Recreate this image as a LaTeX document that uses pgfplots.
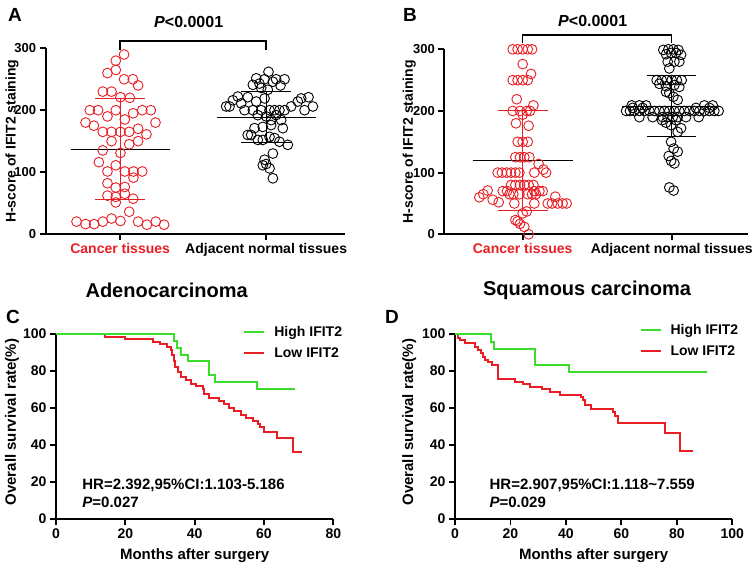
\documentclass[border=0pt]{standalone}
\usepackage{pgfplots}
\pgfplotsset{compat=1.18}
\usepackage{fontspec}
\setmainfont{Liberation Sans}
\definecolor{cred}{RGB}{232,30,36}
\definecolor{cgreen}{RGB}{60,222,45}
\newcommand{\fsz}[1]{\fontsize{#1}{#1}\selectfont\bfseries}
\pgfplotsset{
  myaxis/.style={
    scale only axis,
    axis lines=left,
    axis line style={line width=1.8pt,-},
    tick align=outside,
    major tick length=6pt,
    minor tick num=0,
    tick style={line width=1.8pt,black},
    /pgf/number format/assume math mode=true,
    tick label style={font=\fsz{13}},
    clip=false,
    anchor=south west,
  },
  scat/.style={only marks, mark=o, mark size=4.9pt, mark options={line width=0.9pt}},
  kmaxis/.style={
    myaxis,
    width=277.3pt, height=185pt,
    ymin=0, ymax=100, ytick={0,20,...,100},
    tick label style={font=\fsz{14}},
    xlabel={Months after surgery},
    ylabel={Overall survival rate(\%)},
    every axis x label/.style={at={(axis description cs:0.5,-0.198)},anchor=center,font=\fsz{15}},
    reverse legend,
    legend cell align=left,
    legend image code/.code={\draw[#1,line width=2pt] (0pt,0pt) -- (20pt,0pt);},
    legend style={draw=none, fill=none, font=\fsz{14}, row sep=6pt, inner sep=0pt,
      /tikz/every odd column/.append style={column sep=7pt}},
  },
}
\begin{document}
\begin{tikzpicture}[x=1pt,y=1pt]
\path[use as bounding box] (0,0) rectangle (753,568);

% ---------------- Panel A ----------------
\begin{axis}[myaxis, at={(45.7pt,334pt)}, width=299.3pt, height=185.7pt,
  xmin=-0.51, xmax=1.54, ymin=0, ymax=300, ytick={0,100,200,300},
  xtick={0,1}, xticklabels={\textcolor{cred}{Cancer tissues},Adjacent normal tissues},
  x tick label style={font=\fsz{14}},
  ylabel={H-score of IFIT2 staining},
  every axis y label/.style={at={(axis description cs:-0.1126,0.5)},rotate=90,anchor=center,font=\fsz{14}}]
\addplot[scat, cred] table[row sep=\\]{
x y\\
0.027 290\\ -0.030 280\\ -0.030 265\\ -0.087 260\\ 0.027 250\\ 0.087 250\\ 0.123 240\\
-0.119 230\\ -0.059 230\\ 0.002 221\\ 0.066 220\\ -0.208 200\\ -0.151 200\\ -0.087 190\\
-0.030 200\\ 0.032 185\\ 0.089 195\\ 0.151 200\\ 0.210 200\\ -0.237 180\\ -0.180 175\\
-0.119 165\\ -0.059 165\\ 0.002 165\\ 0.062 165\\ 0.123 170\\ 0.242 180\\ 0.180 161\\
-0.059 150\\ 0.062 145\\ 0.123 150\\ -0.119 135\\ 0.002 131\\ -0.146 116\\ -0.030 111\\
-0.087 101\\ 0.032 101\\ 0.091 101\\ 0.151 101\\ 0.091 91\\ -0.087 82\\ -0.030 75\\
0.032 76\\ -0.087 62\\ -0.030 60\\ 0.032 65\\ 0.089 57\\ -0.030 51\\ 0.062 36\\
-0.299 20\\ -0.237 16\\ -0.178 16\\ -0.119 20\\ -0.059 25\\ 0.002 21\\ 0.123 20\\
0.183 15\\ 0.244 20\\ 0.301 15\\
};
\addplot[scat, black] table[row sep=\\]{
x y\\
1.016 262\\ 0.932 251.5\\ 0.989 250\\ 1.068 250\\ 1.126 250\\ 0.954 243\\ 1.046 246\\
1.098 240\\ 0.909 241\\ 0.966 236\\ 1.011 233\\ 0.806 222\\ 0.772 216\\ 0.874 221\\
0.989 219\\ 1.240 219\\ 1.290 221\\ 1.217 214\\ 0.726 206\\ 0.749 206\\ 0.829 211\\
0.932 214\\ 0.852 200\\ 0.909 200\\ 0.966 200\\ 1.023 200\\ 1.057 200\\ 1.091 200\\
1.126 200\\ 1.171 206\\ 1.263 200\\ 1.320 206\\ 0.943 192\\ 1.000 190\\ 1.068 192\\
1.034 184\\ 1.103 184\\ 0.920 171\\ 0.977 173\\ 1.034 176\\ 1.114 171\\ 0.874 160\\
0.897 160\\ 0.943 152\\ 0.977 152\\ 1.023 157\\ 1.057 155\\ 1.091 149\\ 1.148 144\\
1.046 130\\ 0.989 120\\ 1.000 113\\ 0.977 111\\ 1.023 106\\ 1.046 90\\
};
\addplot[black, line width=1pt] coordinates {(-0.34,137) (0.34,137)};
\addplot[cred, line width=1pt] coordinates {(-0.17,219) (0.17,219)};
\addplot[cred, line width=1pt] coordinates {(-0.17,55) (0.17,55)};
\addplot[cred, line width=1pt] coordinates {(0,55) (0,219)};
\addplot[black, line width=1pt] coordinates {(0.66,189) (1.34,189)};
\addplot[black, line width=1pt] coordinates {(0.83,231) (1.17,231)};
\addplot[black, line width=1pt] coordinates {(0.83,148) (1.17,148)};
\addplot[black, line width=1pt] coordinates {(1,148) (1,231)};
\draw[line width=1.5pt] (axis cs:0,298) -- (axis cs:0,312) -- (axis cs:1,312) -- (axis cs:1,298);
\end{axis}

% ---------------- Panel B ----------------
\begin{axis}[myaxis, at={(444.3pt,333.7pt)}, width=303.4pt, height=185pt,
  xmin=-0.526, xmax=1.51, ymin=0, ymax=300, ytick={0,100,200,300},
  xtick={0,1}, xticklabels={\textcolor{cred}{Cancer tissues},Adjacent normal tissues},
  x tick label style={font=\fsz{14}},
  ylabel={H-score of IFIT2 staining},
  every axis y label/.style={at={(axis description cs:-0.1154,0.5)},rotate=90,anchor=center,font=\fsz{14}}]
\addplot[scat, cred] table[row sep=\\]{
x y\\
-0.067 300\\ -0.034 300\\ 0 300\\ 0.034 300\\ 0.063 300\\ 0 276\\ 0.056 260\\
-0.067 250\\ -0.034 250\\ 0 250\\ 0.034 250\\ -0.040 219\\ 0.072 209\\
-0.067 200\\ -0.018 200\\ 0.027 200\\ 0.049 200\\ 0 194\\ -0.045 180\\ 0.040 176\\
-0.034 150\\ 0 150\\ 0.034 150\\
-0.049 125\\ -0.018 125\\ 0.011 125\\ 0.045 125\\
0.107 114\\ 0.139 105\\ 0.157 100\\ 0.078 100\\
-0.168 100\\ -0.139 100\\ -0.107 100\\ -0.078 100\\ -0.049 100\\ -0.022 100\\
-0.078 80\\ -0.049 80\\ -0.018 80\\ 0.011 80\\ 0.040 80\\ 0.072 80\\
-0.134 70\\ -0.105 70\\ 0.078 70\\ 0.112 70\\ 0.134 70\\
-0.291 60\\ -0.264 65\\ -0.235 71\\ -0.201 56\\ -0.161 52\\
-0.089 65\\ -0.063 65\\ -0.022 65\\ 0.034 65\\ 0.063 65\\ 0.089 65\\
-0.056 50\\ 0.078 50\\ 0.168 50\\ 0.197 50\\ 0.235 50\\ 0.268 50\\ 0.295 50\\
0.219 61\\ 0.027 37\\ 0 34\\
-0.049 23\\ -0.034 21\\ -0.018 17\\ 0.011 12\\ 0.040 0\\
};
\addplot[scat, black] table[row sep=\\]{
x y\\
0.944 299\\ 0.978 300\\ 1.011 300\\ 1.045 299\\ 0.962 292\\ 0.996 294\\ 1.029 294\\
1.063 291\\ 0.973 280\\ 1.018 280\\ 1.051 280\\ 0.984 269\\
0.899 250\\ 0.933 250\\ 0.966 250\\ 1.000 250\\ 1.034 250\\ 1.067 250\\
0.917 244\\ 0.962 240\\ 1.018 242\\ 1.051 239\\ 0.962 231\\ 0.984 229\\ 1.011 223\\
1.040 218\\
0.694 200\\ 0.720 200\\ 0.749 200\\ 0.783 200\\ 0.817 200\\ 0.850 200\\ 0.884 200\\
0.917 200\\ 0.951 200\\ 0.984 200\\ 1.018 200\\ 1.051 200\\ 1.085 200\\ 1.119 200\\
1.152 200\\ 1.186 200\\ 1.219 200\\ 1.253 200\\ 1.286 200\\ 1.315 200\\
0.738 205\\ 0.805 205\\ 1.163 205\\ 1.253 205\\
0.732 209\\ 0.783 209\\ 0.828 209\\ 1.219 209\\ 1.275 209\\
0.783 190\\ 0.872 190\\ 0.940 190\\ 0.973 190\\ 1.007 190\\ 1.040 190\\ 1.096 190\\
1.181 190\\
0.935 185\\ 0.962 181\\ 0.996 177\\ 1.029 185\\ 1.063 172\\ 1.040 166\\
0.996 150\\ 1.013 139\\ 1.040 134\\ 0.980 127\\ 0.996 119\\ 1.018 115\\
0.984 76\\ 1.013 71\\
};
\addplot[black, line width=1pt] coordinates {(-0.336,120) (0.336,120)};
\addplot[cred, line width=1pt] coordinates {(-0.168,201) (0.168,201)};
\addplot[cred, line width=1pt] coordinates {(-0.168,39) (0.168,39)};
\addplot[cred, line width=1pt] coordinates {(0,39) (0,201)};
\addplot[black, line width=1pt] coordinates {(0.668,208) (1.332,208)};
\addplot[black, line width=1pt] coordinates {(0.834,257) (1.166,257)};
\addplot[black, line width=1pt] coordinates {(0.834,158) (1.166,158)};
\addplot[black, line width=1pt] coordinates {(1,158) (1,257)};
\draw[line width=1.5pt] (axis cs:0,310) -- (axis cs:0,323) -- (axis cs:1,323) -- (axis cs:1,310);
\end{axis}

% ---------------- Panel C ----------------
\begin{axis}[kmaxis, at={(56pt,49pt)}, xmin=0, xmax=80, xtick={0,20,...,80},
  every axis y label/.style={at={(axis description cs:-0.1587,0.524)},rotate=90,anchor=center,font=\fsz{15}},
  legend style={at={(axis cs:54,105.5)}, anchor=north west}]
\addplot[const plot, cred, line width=2pt] table[row sep=\\]{
x y\\
0 100\\ 14 98.6\\ 20 97.2\\ 28 95.8\\ 30 94.4\\ 32 93.0\\ 33.2 91.5\\ 33.5 88.7\\
34.1 85.2\\ 34.4 82.3\\ 35.1 79.6\\ 36 77.0\\ 37.5 75.1\\ 38.9 73.2\\ 40.4 71.8\\
42.3 70.0\\ 42.8 67.5\\ 44.2 65.5\\ 47.1 64.0\\ 48.6 62.0\\ 50 60.0\\ 51.4 58.4\\
53.4 56.4\\ 54.8 54.6\\ 56.7 53.0\\ 58.2 51.4\\ 58.8 49.8\\ 60.1 46.8\\ 63.9 43.6\\
68.5 36.0\\ 71 36.0\\
};
\addlegendentry{Low IFIT2}
\addplot[const plot, cgreen, line width=2pt] table[row sep=\\]{
x y\\
0 100\\ 34 96.3\\ 35 92.6\\ 36 88.9\\ 38 85.2\\ 44 77.8\\ 46 74.1\\ 58 70.4\\ 69 70.4\\
};
\addlegendentry{High IFIT2}
\node[anchor=west, font=\fsz{15}] at (axis cs:6.6,18) {HR=2.392,95\%CI:1.103-5.186};
\node[anchor=west, font=\fsz{15}] at (axis cs:6.6,9) {\textit{P}=0.027};
\end{axis}

% ---------------- Panel D ----------------
\begin{axis}[kmaxis, at={(455pt,49pt)}, xmin=0, xmax=100, xtick={0,20,...,100},
  every axis y label/.style={at={(axis description cs:-0.1646,0.523)},rotate=90,anchor=center,font=\fsz{15}},
  legend style={at={(axis cs:66.5,106.5)}, anchor=north west}]
\addplot[const plot, cred, line width=2pt] table[row sep=\\]{
x y\\
0 100\\ 1 98.1\\ 1.8 96.8\\ 3.6 95.0\\ 7.2 93.2\\ 8.4 91.4\\ 9.4 89.6\\ 10.2 87.8\\
10.8 86.0\\ 12 84.6\\ 13.2 83.2\\ 15.6 75.8\\ 21.6 74.2\\ 24.6 73.2\\ 27 71.6\\
31.2 70.4\\ 34.2 68.9\\ 37.8 67.2\\ 45.6 66.0\\ 46.2 64.2\\ 46.8 61.5\\ 49.2 59.6\\
57 57.8\\ 57.6 55.5\\ 58.8 52.0\\ 75.8 46.4\\ 81.2 37.0\\ 86 37.0\\
};
\addlegendentry{Low IFIT2}
\addplot[const plot, cgreen, line width=2pt] table[row sep=\\]{
x y\\
0 100\\ 13 95.8\\ 14 91.7\\ 29 83.4\\ 41 79.2\\ 91 79.2\\
};
\addlegendentry{High IFIT2}
\node[anchor=west, font=\fsz{15}] at (axis cs:11.2,18) {HR=2.907,95\%CI:1.118\textasciitilde 7.559};
\node[anchor=west, font=\fsz{15}] at (axis cs:11.2,9) {\textit{P}=0.029};
\end{axis}

% ---------------- Panel labels and titles ----------------
\node[font=\fsz{19}] at (15,553) {A};
\node[font=\fsz{19}] at (410,553) {B};
\node[font=\fsz{19}] at (13,251) {C};
\node[font=\fsz{19}] at (392,251) {D};
\node[font=\fsz{16}] at (188.7,546) {\textit{P}<0.0001};
\node[font=\fsz{16}] at (592.7,547) {\textit{P}<0.0001};
\node[font=\fsz{20}] at (166.7,278) {Adenocarcinoma};
\node[font=\fsz{20}] at (587,278) {Squamous carcinoma};
\end{tikzpicture}
\end{document}
